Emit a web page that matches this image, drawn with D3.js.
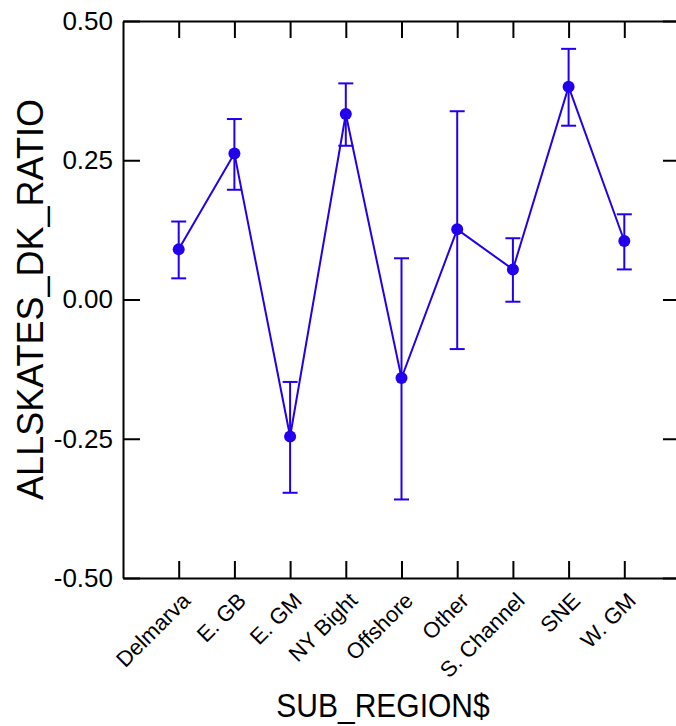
<!DOCTYPE html>
<html>
<head>
<meta charset="utf-8">
<script src="https://cdn.jsdelivr.net/npm/d3@7"></script>
<style>
  html, body { margin: 0; padding: 0; background: #fff; }
  svg { display: block; font-family: "Liberation Sans", Arial, sans-serif; }
</style>
</head>
<body>
<svg id="chart" width="676" height="726"></svg>
<script>
const categories = ["Delmarva", "E. GB", "E. GM", "NY Bight", "Offshore", "Other", "S. Channel", "SNE", "W. GM"];
const means = [0.090, 0.262, -0.246, 0.333, -0.141, 0.126, 0.054, 0.382, 0.105];
const upper = [0.140, 0.324, -0.148, 0.388, 0.074, 0.338, 0.110, 0.450, 0.153];
const lower = [0.038, 0.197, -0.347, 0.276, -0.359, -0.089, -0.004, 0.312, 0.054];
const yTicks = [-0.5, -0.25, 0, 0.25, 0.5];

(function () {
const color = "#2200EE";
const svg = d3.select("#chart");
const mLeft = 123, mRight = 680, mTop = 21, mBottom = 578;

const x = d3.scalePoint().domain(categories).range([mLeft, mRight]).padding(1);
const y = d3.scaleLinear().domain([-0.5, 0.5]).range([mBottom, mTop]);
const fmt = v => d3.format(".2f")(v).replace("\u2212", "-");

const tick = 17;
const gL = svg.append("g").attr("transform", `translate(${mLeft},0)`)
  .call(d3.axisLeft(y).tickValues(yTicks).tickSizeInner(-tick).tickSizeOuter(0).tickFormat(fmt).tickPadding(10));
const gR = svg.append("g").attr("transform", `translate(${mRight},0)`)
  .call(d3.axisRight(y).tickValues(yTicks).tickSizeInner(-tick).tickSizeOuter(0).tickFormat(""));
const gB = svg.append("g").attr("transform", `translate(0,${mBottom})`)
  .call(d3.axisBottom(x).tickSizeInner(-tick).tickSizeOuter(0).tickFormat(""));
const gT = svg.append("g").attr("transform", `translate(0,${mTop})`)
  .call(d3.axisTop(x).tickSizeInner(-tick).tickSizeOuter(0).tickFormat(""));

[gL, gR, gB, gT].forEach(g => {
  g.select(".domain").attr("stroke", "#000").attr("stroke-width", 2);
  g.selectAll(".tick line").attr("stroke", "#000").attr("stroke-width", 2);
});
gL.selectAll(".tick text").attr("font-size", 26).attr("fill", "#000")
  .attr("font-family", "Liberation Sans, Arial, sans-serif");

svg.append("g").selectAll("text").data(categories).join("text")
  .attr("transform", d => `translate(${x(d) + 13},${mBottom + 24}) rotate(-45)`)
  .attr("text-anchor", "end")
  .attr("font-size", 22)
  .attr("fill", "#000")
  .text(d => d);

svg.append("text")
  .attr("transform", `translate(43,${(mTop + mBottom) / 2}) rotate(-90)`)
  .attr("text-anchor", "middle")
  .attr("font-size", 36)
  .attr("fill", "#000")
  .text("ALLSKATES_DK_RATIO");

svg.append("text")
  .attr("transform", `translate(383,717) scale(1,1.1)`)
  .attr("text-anchor", "middle")
  .attr("font-size", 30)
  .attr("fill", "#000")
  .text("SUB_REGION$");

const data = categories.map((c, i) => ({ c, m: means[i], lo: lower[i], hi: upper[i] }));

const eb = svg.append("g").attr("stroke", color).attr("stroke-width", 2).attr("fill", "none");
eb.selectAll("line.v").data(data).join("line").attr("class", "v")
  .attr("x1", d => x(d.c)).attr("x2", d => x(d.c))
  .attr("y1", d => y(d.lo)).attr("y2", d => y(d.hi));
eb.selectAll("line.cu").data(data).join("line").attr("class", "cu")
  .attr("x1", d => x(d.c) - 7.5).attr("x2", d => x(d.c) + 7.5)
  .attr("y1", d => y(d.hi)).attr("y2", d => y(d.hi));
eb.selectAll("line.cl").data(data).join("line").attr("class", "cl")
  .attr("x1", d => x(d.c) - 7.5).attr("x2", d => x(d.c) + 7.5)
  .attr("y1", d => y(d.lo)).attr("y2", d => y(d.lo));

svg.append("path").datum(data)
  .attr("fill", "none").attr("stroke", color).attr("stroke-width", 2)
  .attr("d", d3.line().x(d => x(d.c)).y(d => y(d.m)));

svg.append("g").selectAll("circle").data(data).join("circle")
  .attr("cx", d => x(d.c)).attr("cy", d => y(d.m)).attr("r", 6)
  .attr("fill", color);
})();
</script>
</body>
</html>
